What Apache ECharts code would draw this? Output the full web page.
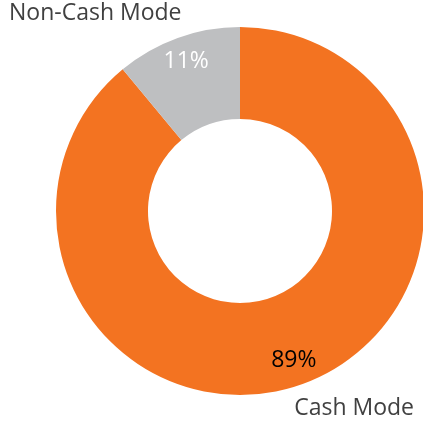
<!DOCTYPE html>
<html>
<head>
<meta charset="utf-8">
<script src="https://cdn.jsdelivr.net/npm/echarts@6/dist/echarts.min.js"></script>
<style>
  html, body { margin: 0; padding: 0; background: #fff; }
  #chart { width: 423px; height: 423px; }
</style>
</head>
<body>
<div id="chart"></div>
<script>
let categories = ['Cash Mode', 'Non-Cash Mode'];
let shares = [89, 11];
let sliceColors = ['#F37321', '#BEBFC1'];
let pctColors = ['#000000', '#ffffff'];

let data = categories.map((name, i) => ({
    name: name,
    value: shares[i],
    itemStyle: { color: sliceColors[i] }
}));

let pctData = categories.map((name, i) => ({
    name: name,
    value: shares[i],
    label: { color: pctColors[i] }
}));

let chart = echarts.init(document.getElementById('chart'));

let conf = {
    animation: false,
    textStyle: { fontFamily: '"Open Sans", sans-serif' },
    series: [
        {
            // the donut itself, with category names outside
            type: 'pie',
            center: [240, 211],
            radius: [92, 184],
            startAngle: 90,
            clockwise: true,
            silent: true,
            avoidLabelOverlap: false,
            label: {
                show: true,
                position: 'outside',
                alignTo: 'edge',
                edgeDistance: 9,
                formatter: '{b}',
                fontSize: 23,
                padding: [3, 0, 0, 0],
                color: '#404040'
            },
            labelLine: { show: false, length: 26, length2: 0 },
            data: data
        },
        {
            // invisible ring only used to place the percent labels
            type: 'pie',
            center: [240, 211],
            radius: [128, 184],
            startAngle: 90,
            clockwise: true,
            silent: true,
            itemStyle: { color: 'rgba(0,0,0,0)' },
            label: {
                show: true,
                position: 'inside',
                formatter: '{c}%',
                fontSize: 23
            },
            labelLine: { show: false },
            data: pctData
        }
    ]
};

chart.setOption(conf);
</script>
</body>
</html>
